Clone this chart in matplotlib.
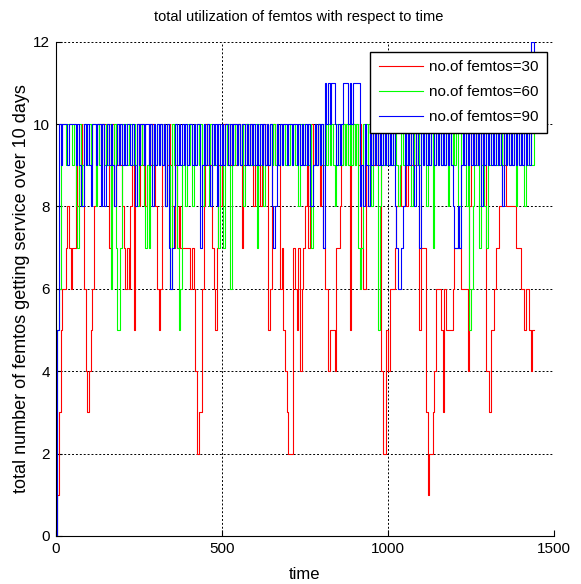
import numpy as np
import matplotlib
matplotlib.use("Agg")
import matplotlib.pyplot as plt

plt.rcParams["font.family"] = ["Liberation Sans", "DejaVu Sans"]

# samples every 5 time units, 0..1440
dt = 5

red_vals = [
    0, 1, 3, 5, 6, 6, 7, 8, 7, 6, 7, 7, 9, 8, 9, 10, 9, 6, 4, 3,
    4, 5, 6, 8, 9, 10, 10, 9, 10, 10, 9, 10, 7, 9, 10, 8, 10, 9, 10, 9,
    8, 7, 6, 7, 6, 8, 9, 5, 9, 10, 8, 10, 9, 10, 8, 9, 10, 9, 10, 9,
    8, 6, 5, 6, 9, 10, 8, 9, 10, 9, 8, 7, 9, 7, 8, 7, 7, 7, 7, 7,
    7, 6, 7, 6, 4, 2, 3, 3, 6, 8, 10, 9, 10, 9, 7, 6, 5, 7, 9, 8,
    9, 10, 10, 9, 10, 9, 10, 10, 9, 10, 10, 9, 7, 9, 10, 10, 9, 10, 9, 8,
    9, 8, 9, 8, 9, 10, 9, 10, 5, 6, 9, 10, 9, 10, 9, 6, 7, 5, 4, 3,
    2, 2, 2, 7, 6, 5, 7, 4, 6, 7, 8, 9, 7, 9, 10, 9, 10, 9, 10, 8,
    9, 7, 6, 6, 4, 5, 5, 5, 4, 7, 7, 8, 9, 10, 9, 10, 9, 5, 10, 10,
    9, 10, 9, 10, 7, 6, 6, 9, 8, 9, 10, 9, 10, 9, 10, 9, 4, 2, 2, 5,
    4, 6, 6, 6, 7, 8, 8, 9, 8, 8, 9, 8, 9, 10, 9, 10, 9, 10, 9, 5,
    7, 7, 7, 3, 1, 2, 2, 3, 4, 6, 6, 6, 5, 3, 6, 5, 5, 5, 5, 6,
    7, 7, 7, 7, 6, 6, 6, 6, 4, 8, 10, 9, 10, 9, 10, 10, 9, 10, 9, 4,
    4, 3, 5, 5, 6, 7, 7, 8, 8, 10, 9, 8, 8, 8, 8, 8, 8, 7, 7, 7,
    6, 6, 5, 6, 6, 5, 4, 5, 5,
]

green_vals = [
    0, 5, 6, 9, 10, 10, 9, 10, 10, 10, 9, 10, 8, 7, 10, 8, 9, 10, 10, 9,
    10, 9, 10, 10, 8, 10, 9, 10, 10, 9, 10, 9, 10, 6, 9, 10, 7, 5, 5, 7,
    10, 9, 10, 9, 10, 10, 9, 10, 9, 8, 10, 9, 10, 8, 7, 9, 7, 10, 9, 10,
    9, 10, 9, 10, 9, 10, 8, 10, 9, 6, 10, 9, 10, 7, 5, 6, 9, 10, 8, 10,
    9, 10, 8, 10, 9, 10, 9, 10, 8, 10, 9, 10, 8, 10, 9, 10, 9, 10, 7, 9,
    10, 7, 10, 9, 10, 6, 10, 9, 10, 9, 10, 9, 10, 8, 10, 9, 10, 9, 10, 9,
    10, 7, 10, 9, 10, 8, 9, 10, 9, 10, 9, 10, 9, 10, 9, 10, 9, 10, 9, 10,
    9, 10, 9, 10, 9, 10, 8, 10, 9, 10, 9, 10, 9, 10, 7, 9, 10, 9, 10, 9,
    10, 9, 10, 9, 10, 9, 10, 9, 8, 10, 9, 10, 9, 10, 9, 10, 9, 10, 9, 10,
    9, 10, 7, 6, 7, 10, 9, 10, 9, 10, 8, 10, 9, 10, 5, 8, 10, 9, 10, 9,
    10, 9, 10, 9, 10, 9, 8, 9, 10, 9, 10, 9, 10, 9, 8, 9, 10, 9, 10, 9,
    10, 9, 10, 8, 10, 9, 10, 7, 9, 10, 9, 10, 9, 10, 9, 10, 8, 10, 9, 10,
    9, 10, 7, 8, 10, 9, 10, 8, 9, 5, 6, 8, 10, 9, 10, 7, 9, 10, 8, 7,
    10, 9, 10, 9, 10, 9, 10, 9, 10, 9, 10, 9, 10, 9, 10, 9, 10, 8, 10, 9,
    10, 9, 8, 10, 9, 10, 9, 9, 10,
]

blue_vals = [
    0, 5, 10, 9, 10, 10, 10, 9, 10, 10, 10, 10, 9, 10, 9, 8, 8, 10, 9, 10,
    9, 8, 10, 10, 9, 10, 10, 8, 10, 8, 9, 10, 9, 10, 9, 8, 9, 10, 9, 10,
    9, 10, 9, 10, 10, 9, 10, 9, 8, 10, 9, 10, 10, 9, 10, 10, 9, 10, 8, 10,
    9, 10, 9, 10, 9, 10, 8, 10, 7, 6, 7, 8, 10, 9, 10, 9, 10, 9, 10, 9,
    10, 10, 9, 10, 9, 10, 10, 7, 9, 10, 9, 10, 9, 8, 10, 9, 10, 8, 10, 9,
    10, 9, 10, 10, 9, 10, 9, 10, 10, 9, 10, 9, 10, 10, 9, 10, 9, 10, 9, 10,
    9, 10, 9, 10, 9, 10, 9, 10, 9, 10, 8, 7, 8, 10, 9, 10, 9, 10, 10, 9,
    10, 10, 9, 10, 10, 9, 10, 9, 10, 9, 10, 9, 10, 8, 8, 9, 10, 9, 10, 9,
    10, 7, 11, 10, 11, 10, 11, 11, 10, 9, 10, 9, 10, 11, 11, 11, 10, 11, 10, 11,
    11, 11, 11, 8, 9, 8, 10, 9, 8, 10, 9, 10, 9, 10, 9, 10, 9, 10, 9, 10,
    9, 10, 9, 10, 8, 7, 6, 6, 7, 8, 10, 9, 10, 9, 10, 9, 8, 10, 9, 7,
    10, 9, 10, 9, 10, 9, 10, 10, 9, 10, 9, 10, 9, 10, 9, 10, 9, 10, 9, 8,
    7, 7, 8, 7, 9, 10, 9, 10, 9, 10, 9, 10, 9, 10, 9, 10, 8, 10, 9, 10,
    9, 10, 9, 10, 9, 10, 9, 10, 9, 8, 10, 9, 10, 9, 10, 9, 10, 9, 10, 9,
    10, 9, 10, 9, 10, 9, 12, 12, 10,
]

labels = ["no.of femtos=30", "no.of femtos=60", "no.of femtos=90"]
colors = ["#ff0000", "#00ff00", "#0000ff"]

fig = plt.figure(figsize=(5.81, 5.84), dpi=100)
ax = fig.add_axes([0.0959, 0.0822, 0.8576, 0.8464])

for vals, color, label in zip([red_vals, green_vals, blue_vals], colors, labels):
    t = np.arange(len(vals)) * dt
    ax.step(t, vals, where="post", color=color, lw=0.8, label=label)

ax.set_xlim(0, 1500)
ax.set_ylim(0, 12)
ax.set_xticks([0, 500, 1000, 1500])
ax.set_yticks(range(0, 13, 2))
ax.grid(True, color="k", ls=(0, (2, 2)), lw=0.7)
ax.spines["top"].set_visible(False)
ax.spines["right"].set_visible(False)
ax.tick_params(direction="in", labelsize=11, length=4, pad=4)

ax.set_xlabel("time", fontsize=12, labelpad=8)
ax.set_ylabel("total number of femtos getting service over 10 days", fontsize=13, labelpad=2)
fig.text(0.514, 0.971, "total utilization of femtos with respect to time",
         ha="center", va="center", fontsize=10.5)

ax.legend(loc="upper right", bbox_to_anchor=(0.986, 0.979), borderaxespad=0,
          fancybox=False, edgecolor="k", framealpha=1, fontsize=11,
          handlelength=2.9, handletextpad=0.4, borderpad=0.55, labelspacing=0.72)

fig.savefig("out.png", dpi=100)
